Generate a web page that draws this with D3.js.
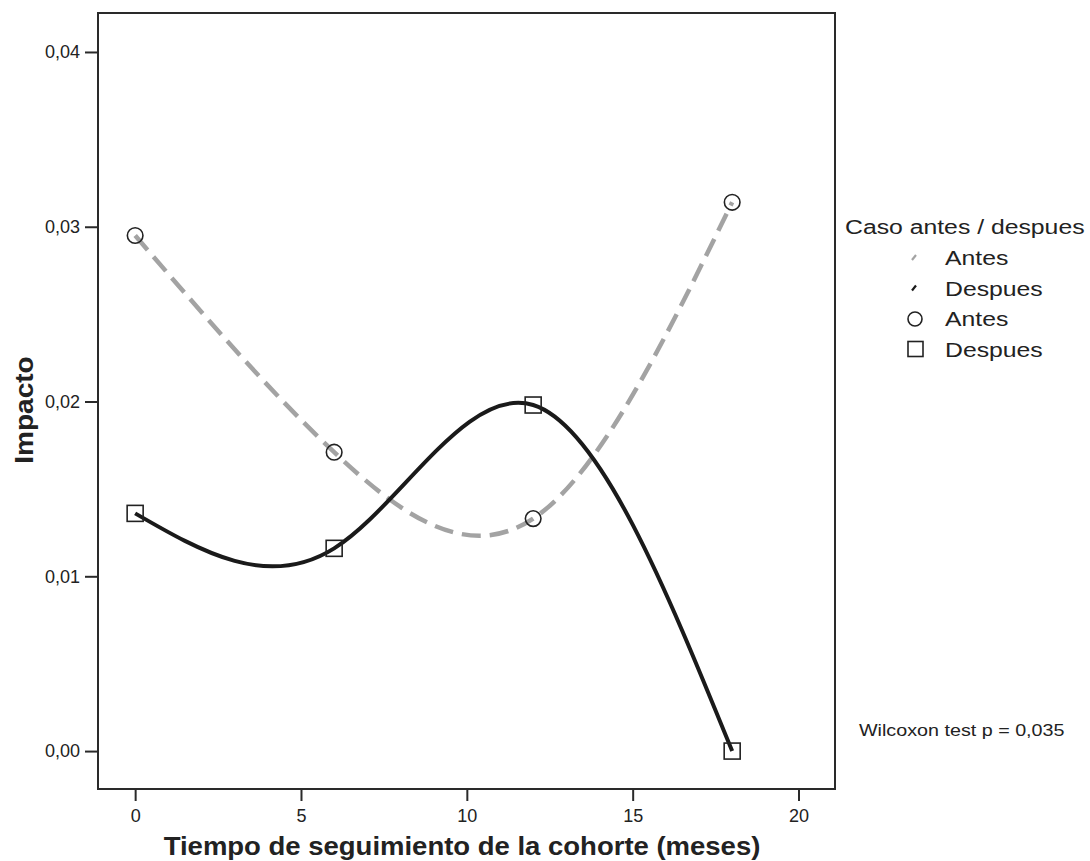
<!DOCTYPE html>
<html>
<head>
<meta charset="utf-8">
<script src="https://cdn.jsdelivr.net/npm/d3@7"></script>
<style>
  body { margin: 0; background: #fff; }
  text { font-family: "Liberation Sans", Arial, sans-serif; fill: #222; }
</style>
</head>
<body>
<svg id="chart" width="1090" height="861"></svg>
<script>
// months of follow-up
const months = [0, 6, 12, 18];
// impact before / after
const antes = [0.0295, 0.0171, 0.0133, 0.0314];
const despues = [0.0136, 0.0116, 0.0198, 0.0];
const xTicks = [0, 5, 10, 15, 20];
const yTicks = [0, 0.01, 0.02, 0.03, 0.04];
const legendItems = ['Antes', 'Despues', 'Antes', 'Despues'];

const svg = d3.select('#chart');
const frame = { left: 98, top: 13, right: 835, bottom: 789 };

const x = d3.scaleLinear().domain([-1.12, 21.1]).range([frame.left, frame.right]);
const y = d3.scaleLinear().domain([-0.00217, 0.04223]).range([frame.bottom, frame.top]);

const fmt = d => d3.format('.2f')(d).replace('.', ',');

// stretched text helper (the source font is wider than Arial)
function label(parent, px, py, str, size, sx, opts = {}) {
  const t = parent.append('text')
    .attr('transform', `translate(${px},${py}) ${opts.rotate ? 'rotate(-90) ' : ''}scale(${sx},1)`)
    .attr('font-size', size)
    .attr('text-anchor', opts.anchor || 'start')
    .text(str);
  if (opts.bold) t.attr('font-weight', 'bold');
  return t;
}

svg.append('rect')
  .attr('x', frame.left).attr('y', frame.top)
  .attr('width', frame.right - frame.left).attr('height', frame.bottom - frame.top)
  .attr('fill', 'none').attr('stroke', '#2a2a2a').attr('stroke-width', 2);

const xAxis = svg.append('g')
  .attr('transform', `translate(0,${frame.bottom})`)
  .call(d3.axisBottom(x).tickValues(xTicks).tickSize(12).tickPadding(8));
xAxis.select('.domain').remove();
xAxis.selectAll('line').attr('stroke', '#2a2a2a').attr('stroke-width', 2);
xAxis.selectAll('text').attr('font-size', 18).attr('font-family', '"Liberation Sans", Arial, sans-serif').attr('fill', '#222');

const yAxis = svg.append('g')
  .attr('transform', `translate(${frame.left},0)`)
  .call(d3.axisLeft(y).tickValues(yTicks).tickFormat(fmt).tickSize(13).tickPadding(5));
yAxis.select('.domain').remove();
yAxis.selectAll('line').attr('stroke', '#2a2a2a').attr('stroke-width', 2);
yAxis.selectAll('text').attr('font-size', 18).attr('font-family', '"Liberation Sans", Arial, sans-serif').attr('fill', '#222');

label(svg, 462, 855, 'Tiempo de seguimiento de la cohorte (meses)', 25, 1.1, { anchor: 'middle', bold: true });
label(svg, 33, 410, 'Impacto', 25, 1.12, { anchor: 'middle', bold: true, rotate: true });

const line = d3.line()
  .x((d, i) => x(months[i]))
  .y(d => y(d))
  .curve(d3.curveNatural);

svg.append('path')
  .attr('d', line(antes))
  .attr('fill', 'none')
  .attr('stroke', '#a3a3a3')
  .attr('stroke-width', 4.5)
  .attr('stroke-dasharray', '19,9');

svg.append('path')
  .attr('d', line(despues))
  .attr('fill', 'none')
  .attr('stroke', '#1a1a1a')
  .attr('stroke-width', 4);

svg.selectAll('.m-antes')
  .data(antes)
  .enter()
  .append('circle')
  .attr('cx', (d, i) => x(months[i]))
  .attr('cy', d => y(d))
  .attr('r', 7.8)
  .attr('fill', 'none')
  .attr('stroke', '#222')
  .attr('stroke-width', 1.6);

svg.selectAll('.m-despues')
  .data(despues)
  .enter()
  .append('rect')
  .attr('x', (d, i) => x(months[i]) - 8)
  .attr('y', d => y(d) - 8)
  .attr('width', 16)
  .attr('height', 16)
  .attr('fill', 'none')
  .attr('stroke', '#222')
  .attr('stroke-width', 1.6);

// legend
const legend = svg.append('g');
label(legend, 845, 234, 'Caso antes / despues', 21, 1.18);

const rows = legend.selectAll('.row')
  .data(legendItems)
  .enter()
  .append('g')
  .attr('transform', (d, i) => `translate(0,${265 + i * 30.5})`);

rows.each(function (d, i) {
  const g = d3.select(this);
  label(g, 945, 0, d, 21, 1.18);
  if (i === 0 || i === 1) {
    g.append('line')
      .attr('x1', 912).attr('y1', -5).attr('x2', 916).attr('y2', -10)
      .attr('stroke', i === 0 ? '#a3a3a3' : '#1a1a1a')
      .attr('stroke-width', 2.2);
  } else if (i === 2) {
    g.append('circle').attr('cx', 915).attr('cy', -7).attr('r', 7)
      .attr('fill', 'none').attr('stroke', '#222').attr('stroke-width', 1.6);
  } else {
    g.append('rect').attr('x', 908).attr('y', -15).attr('width', 15).attr('height', 15)
      .attr('fill', 'none').attr('stroke', '#222').attr('stroke-width', 1.6);
  }
});

label(svg, 859, 736, 'Wilcoxon test p = 0,035', 17, 1.16);
</script>
</body>
</html>
